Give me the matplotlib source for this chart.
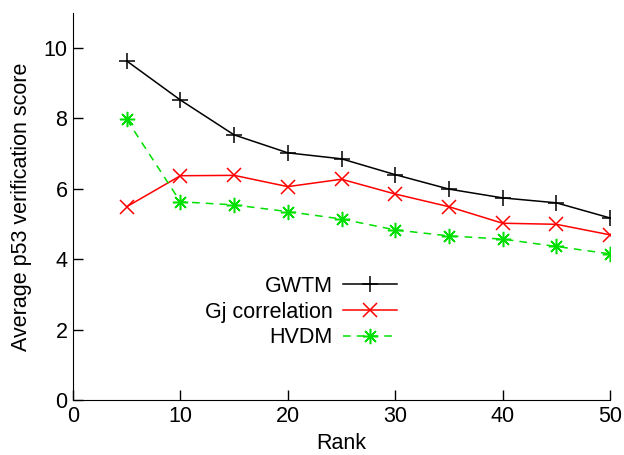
import matplotlib
matplotlib.use("Agg")
import matplotlib.pyplot as plt

rank = [5, 10, 15, 20, 25, 30, 35, 40, 45, 50]
gwtm = [9.63, 8.52, 7.53, 7.02, 6.85, 6.40, 5.99, 5.74, 5.60, 5.17]
gj = [5.49, 6.37, 6.38, 6.06, 6.27, 5.85, 5.49, 5.02, 4.99, 4.69]
hvdm = [7.97, 5.63, 5.54, 5.35, 5.14, 4.83, 4.66, 4.57, 4.36, 4.15]

plt.rcParams['font.family'] = ['Liberation Sans', 'DejaVu Sans']

fig = plt.figure(figsize=(6.24, 4.55), dpi=100)
ax = fig.add_axes([0.117, 0.121, 0.8606, 0.851])

ax.plot(rank, gwtm, color='black', lw=1.1, marker='+', ms=11, mew=1.1, label='GWTM')
ax.plot(rank, gj, color='#ff0000', lw=1.1, marker='x', ms=10, mew=1.1, label='Gj correlation')
ax.plot(rank, hvdm, color='#00e000', lw=1.1, ls=(0, (5, 4)), marker=(8, 2, 0), ms=11, mew=1.1, label='HVDM')

ax.set_xlim(0, 50)
ax.set_ylim(0, 11)
ax.set_xticks([0, 10, 20, 30, 40, 50])
ax.set_yticks([0, 2, 4, 6, 8, 10])
ax.spines['top'].set_visible(False)
ax.spines['right'].set_visible(False)
ax.tick_params(direction='in', length=7, width=1, labelsize=15.5, pad=4)
ax.set_xlabel('Rank', fontsize=15.5, labelpad=4.5)
ax.set_ylabel('Average p53 verification score', fontsize=15.5, labelpad=8)

leg = ax.legend(loc='center', bbox_to_anchor=(0.425, 0.227), frameon=False,
                markerfirst=False, fontsize=15.5, handlelength=2.55,
                labelspacing=0.22, handletextpad=0.45)
for t in leg.get_texts():
    t.set_ha('right')
leg._legend_box.align = 'right'

fig.savefig('out.png', dpi=100)
